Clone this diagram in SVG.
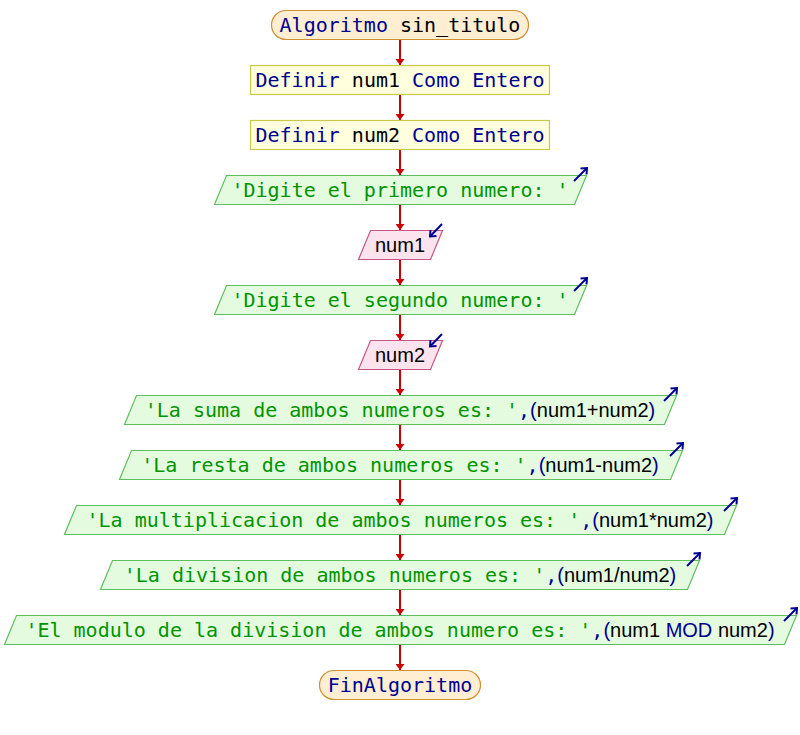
<svg xmlns="http://www.w3.org/2000/svg" width="800" height="735" viewBox="0 0 800 735">
<defs>
<style>
.term{fill:#ffeed2;stroke:#cf8f33;stroke-width:1.2}
.def{fill:#ffffde;stroke:#c8c84c;stroke-width:1.2}
.out{fill:#e4fbe0;stroke:#5fbf5f;stroke-width:1.2}
.in{fill:#fde3ee;stroke:#c8548a;stroke-width:1.2}
text{font-size:20px;text-anchor:middle;white-space:pre}
.m{font-family:"DejaVu Sans Mono","Liberation Mono",monospace}
.s{font-family:"Liberation Sans",Arial,sans-serif}
.k{fill:#000090}
.v{fill:#000000}
.g{fill:#009400}
.icon{fill:none;stroke:#000090;stroke-width:2}
.conn line{stroke:#cc0000;stroke-width:2}
</style>
<marker id="ah" viewBox="0 0 10 10" refX="10" refY="5" markerWidth="6" markerHeight="9" markerUnits="userSpaceOnUse" orient="auto" preserveAspectRatio="none">
<path d="M0,0 L10,5 L0,10 z" fill="#cc0000"/>
</marker>
</defs>
<rect width="800" height="735" fill="#ffffff"/>
<g class="conn">
<line x1="400" y1="40" x2="400" y2="65" marker-end="url(#ah)"/>
<line x1="400" y1="95" x2="400" y2="120" marker-end="url(#ah)"/>
<line x1="400" y1="150" x2="400" y2="175" marker-end="url(#ah)"/>
<line x1="400" y1="205" x2="400" y2="230" marker-end="url(#ah)"/>
<line x1="400" y1="260" x2="400" y2="285" marker-end="url(#ah)"/>
<line x1="400" y1="315" x2="400" y2="340" marker-end="url(#ah)"/>
<line x1="400" y1="370" x2="400" y2="395" marker-end="url(#ah)"/>
<line x1="400" y1="425" x2="400" y2="450" marker-end="url(#ah)"/>
<line x1="400" y1="480" x2="400" y2="505" marker-end="url(#ah)"/>
<line x1="400" y1="535" x2="400" y2="560" marker-end="url(#ah)"/>
<line x1="400" y1="590" x2="400" y2="615" marker-end="url(#ah)"/>
<line x1="400" y1="645" x2="400" y2="670" marker-end="url(#ah)"/>
</g>
<g id="n1">
<rect class="term" x="271.5" y="10.5" width="257" height="29" rx="14.5"/>
<text x="400" y="32"><tspan class="m k">Algoritmo</tspan><tspan class="m v"> sin_titulo</tspan></text>
</g>
<g id="n2">
<rect class="def" x="250.5" y="65.5" width="299" height="29"/>
<text x="400" y="87"><tspan class="m k">Definir</tspan><tspan class="m v"> num1 </tspan><tspan class="m k">Como Entero</tspan></text>
</g>
<g id="n3">
<rect class="def" x="250.5" y="120.5" width="299" height="29"/>
<text x="400" y="142"><tspan class="m k">Definir</tspan><tspan class="m v"> num2 </tspan><tspan class="m k">Como Entero</tspan></text>
</g>
<g id="n4">
<polygon class="out" points="226.5,175.5 586.5,175.5 574.5,204.5 214.5,204.5"/>
<text x="400" y="197" class="m g">'Digite el primero numero: '</text>
<polyline class="icon" points="574,181 587,168"/><polyline class="icon" points="580.5,168.5 587,168 586.5,174.5"/>
</g>
<g id="n5">
<polygon class="in" points="370.5,230.5 442.5,230.5 430.5,259.5 358.5,259.5"/>
<text x="400" y="252" class="s v">num1</text>
<polyline class="icon" points="442,224 430,236.5"/><polyline class="icon" points="430.5,230 430,236.5 436.5,236"/>
</g>
<g id="n6">
<polygon class="out" points="226.5,285.5 586.5,285.5 574.5,314.5 214.5,314.5"/>
<text x="400" y="307" class="m g">'Digite el segundo numero: '</text>
<polyline class="icon" points="574,291 587,278"/><polyline class="icon" points="580.5,278.5 587,278 586.5,284.5"/>
</g>
<g id="n7">
<polygon class="in" points="370.5,340.5 442.5,340.5 430.5,369.5 358.5,369.5"/>
<text x="400" y="362" class="s v">num2</text>
<polyline class="icon" points="442,334 430,346.5"/><polyline class="icon" points="430.5,340 430,346.5 436.5,346"/>
</g>
<g id="n8">
<polygon class="out" points="136.5,395.5 676.5,395.5 664.5,424.5 124.5,424.5"/>
<text x="400" y="417"><tspan class="m g">'La suma de ambos numeros es: '</tspan><tspan class="m k">,</tspan><tspan class="s k">(</tspan><tspan class="s v">num1+num2</tspan><tspan class="s k">)</tspan></text>
<polyline class="icon" points="664,401 677,388"/><polyline class="icon" points="670.5,388.5 677,388 676.5,394.5"/>
</g>
<g id="n9">
<polygon class="out" points="131.5,450.5 682.5,450.5 670.5,479.5 119.5,479.5"/>
<text x="400" y="472"><tspan class="m g">'La resta de ambos numeros es: '</tspan><tspan class="m k">,</tspan><tspan class="s k">(</tspan><tspan class="s v">num1-num2</tspan><tspan class="s k">)</tspan></text>
<polyline class="icon" points="670,456 683,443"/><polyline class="icon" points="676.5,443.5 683,443 682.5,449.5"/>
</g>
<g id="n10">
<polygon class="out" points="76.5,505.5 736.5,505.5 724.5,534.5 64.5,534.5"/>
<text x="400" y="527"><tspan class="m g">'La multiplicacion de ambos numeros es: '</tspan><tspan class="m k">,</tspan><tspan class="s k">(</tspan><tspan class="s v">num1*num2</tspan><tspan class="s k">)</tspan></text>
<polyline class="icon" points="724,511 737,498"/><polyline class="icon" points="730.5,498.5 737,498 736.5,504.5"/>
</g>
<g id="n11">
<polygon class="out" points="112.5,560.5 699.5,560.5 687.5,589.5 100.5,589.5"/>
<text x="400" y="582"><tspan class="m g">'La division de ambos numeros es: '</tspan><tspan class="m k">,</tspan><tspan class="s k">(</tspan><tspan class="s v">num1/num2</tspan><tspan class="s k">)</tspan></text>
<polyline class="icon" points="687,566 700,553"/><polyline class="icon" points="693.5,553.5 700,553 699.5,559.5"/>
</g>
<g id="n12">
<polygon class="out" points="16.5,615.5 796.5,615.5 784.5,644.5 4.5,644.5"/>
<text x="400" y="637"><tspan class="m g">'El modulo de la division de ambos numero es: '</tspan><tspan class="m k">,</tspan><tspan class="s k">(</tspan><tspan class="s v">num1</tspan><tspan class="s k"> MOD </tspan><tspan class="s v">num2</tspan><tspan class="s k">)</tspan></text>
<polyline class="icon" points="784,621 797,608"/><polyline class="icon" points="790.5,608.5 797,608 796.5,614.5"/>
</g>
<g id="n13">
<rect class="term" x="319.5" y="670.5" width="161" height="29" rx="14.5"/>
<text x="400" y="692" class="m k">FinAlgoritmo</text>
</g>
</svg>
